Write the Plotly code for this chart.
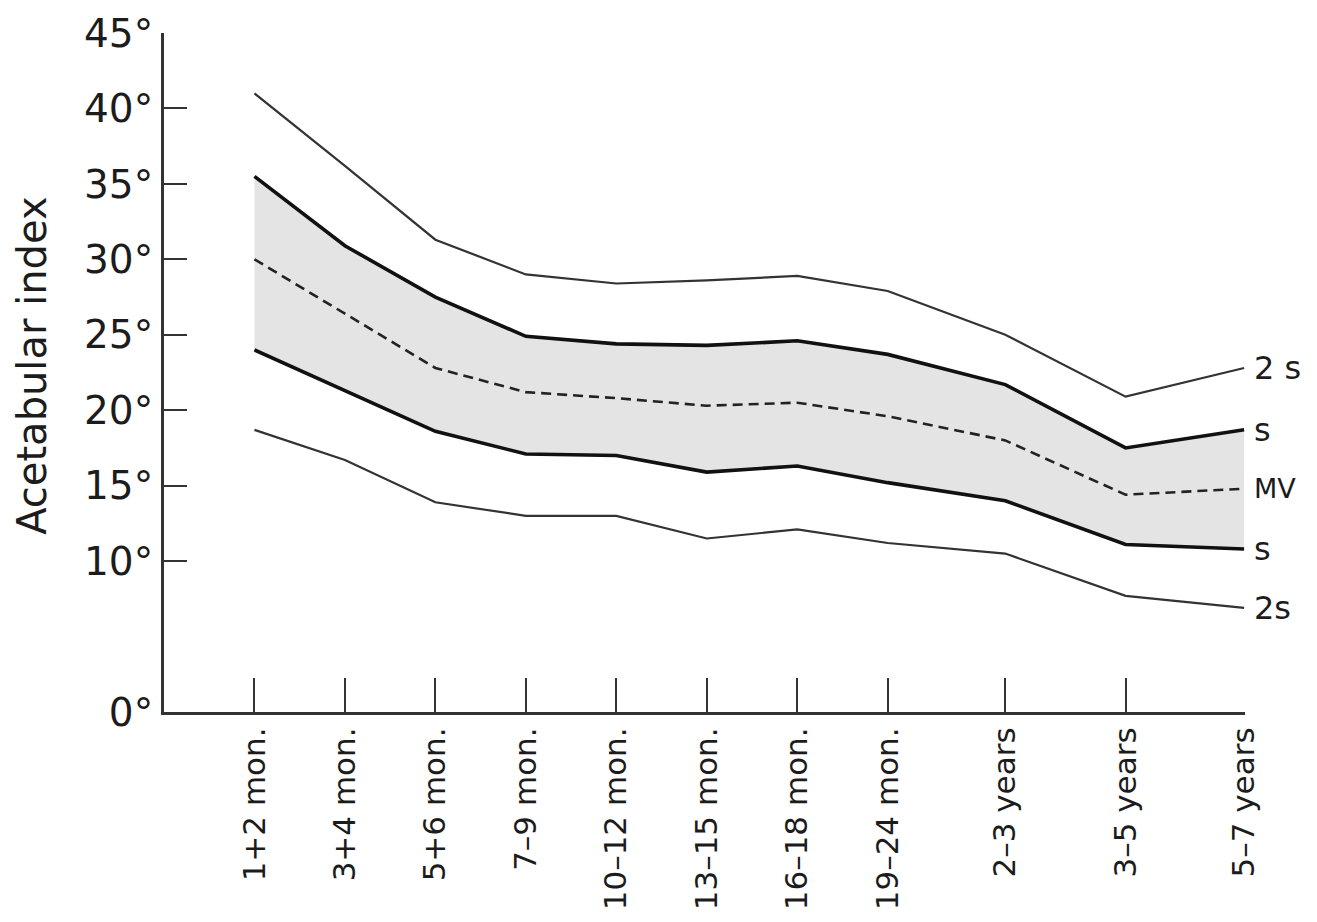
import plotly.graph_objects as go

# age groups and their spacing along the axis (the year groups sit wider apart)
age_groups = ["1+2 mon.", "3+4 mon.", "5+6 mon.", "7\u20139 mon.", "10\u201312 mon.", "13\u201315 mon.",
              "16\u201318 mon.", "19\u201324 mon.", "2\u20133 years", "3\u20135 years", "5\u20137 years"]
x_pos = [0, 1, 2, 3, 4, 5, 6, 7, 8.3, 9.63, 10.94]

# acetabular index in degrees
upper_2s = [41.0, 36.2, 31.3, 29.0, 28.4, 28.6, 28.9, 27.9, 25.0, 20.9, 22.8]
upper_s = [35.5, 30.9, 27.5, 24.9, 24.4, 24.3, 24.6, 23.7, 21.7, 17.5, 18.7]
mean_val = [30.0, 26.4, 22.8, 21.2, 20.8, 20.3, 20.5, 19.6, 18.0, 14.4, 14.8]
lower_s = [24.0, 21.3, 18.6, 17.1, 17.0, 15.9, 16.3, 15.2, 14.0, 11.1, 10.8]
lower_2s = [18.7, 16.7, 13.9, 13.0, 13.0, 11.5, 12.1, 11.2, 10.5, 7.7, 6.9]

y_ticks = [0, 10, 15, 20, 25, 30, 35, 40, 45]
y_labels = [f"{v}\u00b0" for v in y_ticks]

FONT = "DejaVu Sans, sans-serif"
INK = "#1c1c1c"

fig = go.Figure()

# shaded band between the two s curves
fig.add_trace(go.Scatter(x=x_pos, y=lower_s, mode="lines", line=dict(width=0),
                         hoverinfo="skip", showlegend=False))
fig.add_trace(go.Scatter(x=x_pos, y=upper_s, mode="lines", line=dict(width=0),
                         fill="tonexty", fillcolor="#e4e4e4", hoverinfo="skip", showlegend=False))

thin = dict(color="#333333", width=2.2)
thick = dict(color="#111111", width=3.6)
fig.add_trace(go.Scatter(x=x_pos, y=upper_2s, mode="lines", line=thin, name="+2s"))
fig.add_trace(go.Scatter(x=x_pos, y=upper_s, mode="lines", line=thick, name="+s"))
fig.add_trace(go.Scatter(x=x_pos, y=mean_val, mode="lines",
                         line=dict(color="#222222", width=2.6, dash="10px,6px"), name="MV"))
fig.add_trace(go.Scatter(x=x_pos, y=lower_s, mode="lines", line=thick, name="-s"))
fig.add_trace(go.Scatter(x=x_pos, y=lower_2s, mode="lines", line=thin, name="-2s"))

# curve labels at the right end
end_labels = [("2 s", upper_2s[-1]), ("s", upper_s[-1]), ("MV", mean_val[-1]),
              ("s", lower_s[-1]), ("2s", lower_2s[-1])]
for txt, yv in end_labels:
    fig.add_annotation(x=x_pos[-1], y=yv, text=txt, showarrow=False, xanchor="left",
                       xshift=8, font=dict(family=FONT, size=32 if txt != "MV" else 27, color=INK))

fig.add_annotation(xref="paper", yref="paper", x=-0.122, y=0.51, xanchor="center", yanchor="middle",
                   text="Acetabular index", textangle=-90, showarrow=False,
                   font=dict(family=FONT, size=40, color=INK))

fig.update_xaxes(range=[-1.0, 10.95], tickmode="array", tickvals=x_pos, ticktext=age_groups,
                 tickangle=-90, ticks="inside", ticklen=34, tickwidth=1.8, tickcolor="#333333",
                 showline=True, linewidth=3, linecolor="#333333", showgrid=False, zeroline=False,
                 tickfont=dict(family=FONT, size=31, color=INK), automargin=False)
fig.update_yaxes(range=[0, 45], tickmode="array", tickvals=y_ticks, ticktext=y_labels,
                 ticks="inside", ticklen=23, tickwidth=2.2, tickcolor="#333333",
                 showline=True, linewidth=3, linecolor="#333333", showgrid=False, zeroline=False,
                 tickfont=dict(family=FONT, size=39, color=INK), automargin=False)

fig.update_layout(width=1301, height=906, plot_bgcolor="white", paper_bgcolor="white",
                  margin=dict(l=156, r=64, t=25, b=202), showlegend=False)

fig.write_html("out.html")
